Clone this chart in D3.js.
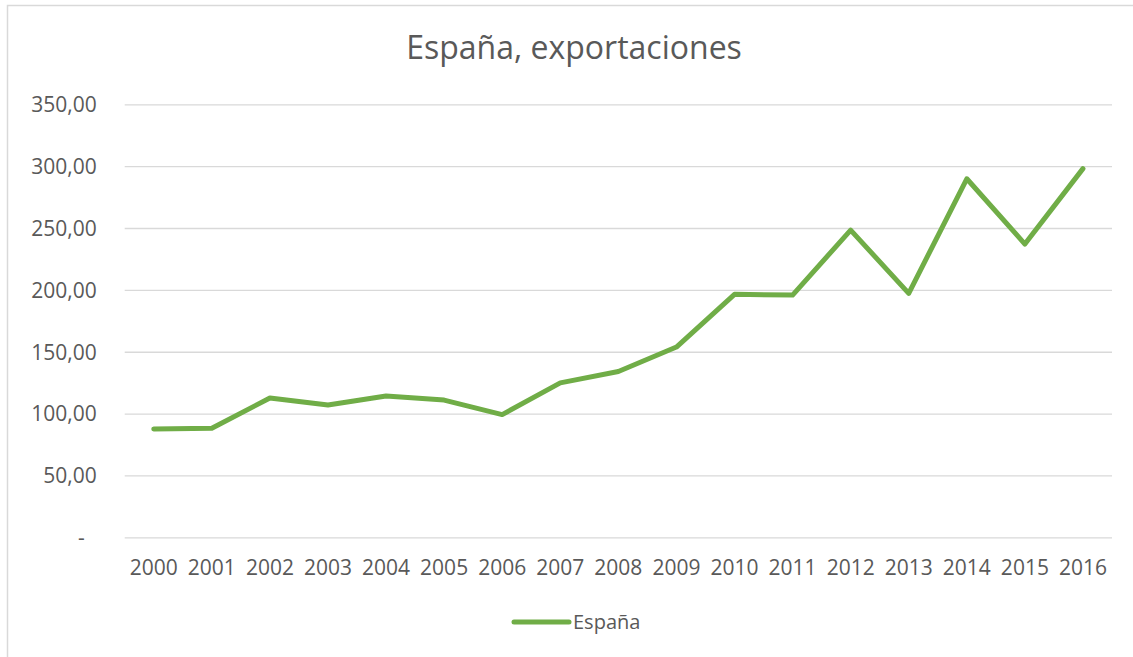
<!DOCTYPE html>
<html>
<head>
<meta charset="utf-8">
<script src="https://cdn.jsdelivr.net/npm/d3@7"></script>
<style>
  body { margin:0; background:#fff; }
  svg { display:block; font-family:"Open Sans", sans-serif; }
</style>
</head>
<body>
<div id="plot"></div>
<script>
// España, exportaciones

var years = [2000,2001,2002,2003,2004,2005,2006,2007,2008,2009,2010,2011,2012,2013,2014,2015,2016];
var exportaciones = [87.5,88.2,112.6,107,114.2,110.9,99.2,124.8,134,153.8,196.4,195.8,248.3,197.2,289.8,237,298];
var yTicks = [0,50,100,150,200,250,300,350];
var seriesName = 'España';
var titleText = 'España, exportaciones';

var W = 1133, H = 657;
var margin = {t:104.3,r:21,b:119.7,l:124.7};
var width = W-margin.l-margin.r,
	height = H-margin.t-margin.b;

var svg = d3.select('#plot')
	.append('svg')
	.attr('width',W)
	.attr('height',H);

// chart frame
svg.append('rect')
	.attr('x',7.5).attr('y',5.5)
	.attr('width',W+10).attr('height',H+10)
	.attr('fill','none')
	.attr('stroke','#d9d9d9')
	.attr('stroke-width',1.5);

svg.append('text')
	.attr('x',574).attr('y',59)
	.attr('text-anchor','middle')
	.attr('fill','#595959')
	.style('font-size','32px')
	.text(titleText);

var plot = svg.append('g')
	.attr('transform','translate('+margin.l+','+margin.t+')');

var scaleX = d3.scaleBand().domain(years).range([0,width]);
var scaleY = d3.scaleLinear().domain([0,350]).range([height,0]);

// gridlines + y labels
var yAxis = d3.axisLeft(scaleY)
	.tickValues(yTicks)
	.tickSize(-width)
	.tickPadding(28)
	.tickFormat(function(d){ return d===0 ? '-' : d3.format(',.2f')(d).replace('.',','); });

var gy = plot.append('g').call(yAxis)
	.attr('font-family','"Open Sans", sans-serif');
gy.select('.domain').remove();
gy.selectAll('line').attr('stroke','#d9d9d9').attr('stroke-width',1.3);
gy.selectAll('text')
	.attr('fill','#595959')
	.style('font-size','21px')
	.attr('dy','0.35em')
	.attr('x',function(d){ return d===0 ? -40 : -28; });

// x labels
var xAxis = d3.axisBottom(scaleX).tickSize(0).tickPadding(23);
var gx = plot.append('g')
	.attr('transform','translate(0,'+height+')')
	.call(xAxis)
	.attr('font-family','"Open Sans", sans-serif');
gx.select('.domain').remove();
gx.selectAll('text')
	.attr('fill','#595959')
	.style('font-size','21px');

var line = d3.line()
	.x(function(d,i){ return scaleX(years[i])+scaleX.bandwidth()/2; })
	.y(function(d){ return scaleY(d); });

plot.append('path')
	.datum(exportaciones)
	.attr('d',line)
	.attr('fill','none')
	.attr('stroke','#70ad47')
	.attr('stroke-width',5)
	.attr('stroke-linejoin','round')
	.attr('stroke-linecap','round');

// legend
var leg = svg.append('g').attr('transform','translate(514,622)');
leg.append('line')
	.attr('x1',0).attr('x2',55)
	.attr('stroke','#70ad47')
	.attr('stroke-width',5)
	.attr('stroke-linecap','round');
leg.append('text')
	.attr('x',59).attr('y',7)
	.attr('fill','#595959')
	.style('font-size','20px')
	.text(seriesName);
</script>
</body>
</html>
